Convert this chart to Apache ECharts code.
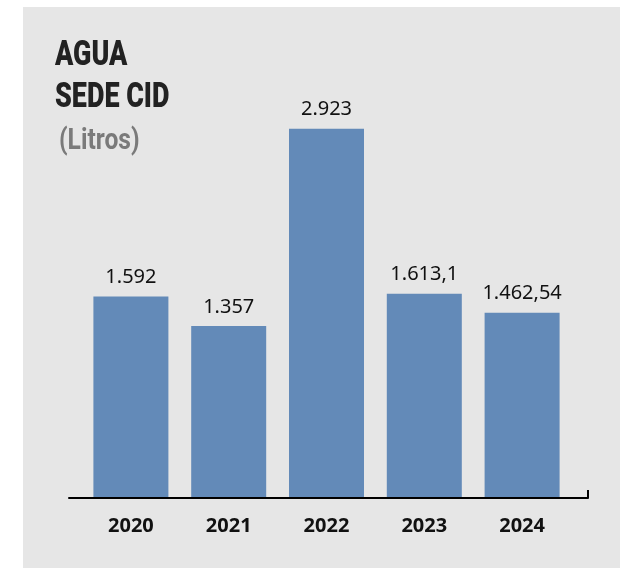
<!DOCTYPE html>
<html>
<head>
<meta charset="utf-8">
<script src="https://cdn.jsdelivr.net/npm/echarts@6/dist/echarts.min.js"></script>
<style>
  html, body { margin: 0; padding: 0; background: #fff; }
  /* panel gris de fondo */
  .panel { position: absolute; left: 23px; top: 7px; width: 597px; height: 561px; background: #e6e6e6; }
  #chart { position: absolute; left: 0; top: 0; width: 621px; height: 569px; }
</style>
</head>
<body>
<div class="panel"></div>
<div id="chart"></div>
<script>
// datos
const years = ['2020', '2021', '2022', '2023', '2024'];
const liters = [1592, 1357, 2923, 1613.1, 1462.54];
const titleLines = ['AGUA', 'SEDE CID'];
const unitText = '(Litros)';

// 1.462,54 estilo español
function fmtEs(v) {
    const parts = String(v).split('.');
    const int = parts[0].replace(/\B(?=(\d{3})+(?!\d))/g, '.');
    return parts.length > 1 ? int + ',' + parts[1] : int;
}

const chart = echarts.init(document.getElementById('chart'), null, { renderer: 'canvas' });

const titleFont = { fontFamily: 'Roboto', fontWeight: 900, fontSize: 35, fill: '#222', verticalAlign: 'middle' };

const option = {
    backgroundColor: 'transparent',
    animation: false,
    grid: [
        { left: 82, right: 50, top: 56, bottom: 72 },
        { left: 69, right: 33, top: 56, bottom: 71 }
    ],
    xAxis: [
        {
            type: 'category',
            data: years,
            gridIndex: 0,
            axisLine: { show: false },
            axisTick: { show: false },
            axisLabel: {
                margin: 19,
                color: '#111',
                fontFamily: 'Noto Sans',
                fontWeight: 'bold',
                fontSize: 20
            }
        },
        {
            // linea base del eje
            type: 'value',
            gridIndex: 1,
            min: 0,
            max: 1,
            axisLine: { show: true, lineStyle: { color: '#000', width: 2 } },
            axisTick: { show: true, inside: true, length: 8, customValues: [1], lineStyle: { color: '#000', width: 2 } },
            axisLabel: { show: false },
            splitLine: { show: false }
        }
    ],
    yAxis: [
        { type: 'value', gridIndex: 0, min: 0, max: 3500, show: false, splitLine: { show: false } },
        { type: 'value', gridIndex: 1, min: 0, max: 1, show: false, splitLine: { show: false } }
    ],
    series: [
        {
            type: 'bar',
            xAxisIndex: 0,
            yAxisIndex: 0,
            data: liters,
            barWidth: 75,
            itemStyle: { color: '#638ab8' },
            label: {
                show: true,
                position: 'top',
                distance: 9,
                color: '#111',
                fontFamily: 'Noto Sans',
                fontSize: 20,
                formatter: p => fmtEs(p.value)
            }
        }
    ],
    graphic: [
        { type: 'text', x: 55, y: 56, scaleX: 0.77, style: Object.assign({ text: titleLines[0] }, titleFont) },
        { type: 'text', x: 55, y: 98, scaleX: 0.77, style: Object.assign({ text: titleLines[1] }, titleFont) },
        {
            type: 'text', x: 59, y: 141, scaleX: 0.82,
            style: { text: unitText, fontFamily: 'Roboto', fontWeight: 'bold', fontSize: 30, fill: '#7a7a7a', verticalAlign: 'middle' }
        }
    ]
};

chart.setOption(option);
</script>
</body>
</html>
